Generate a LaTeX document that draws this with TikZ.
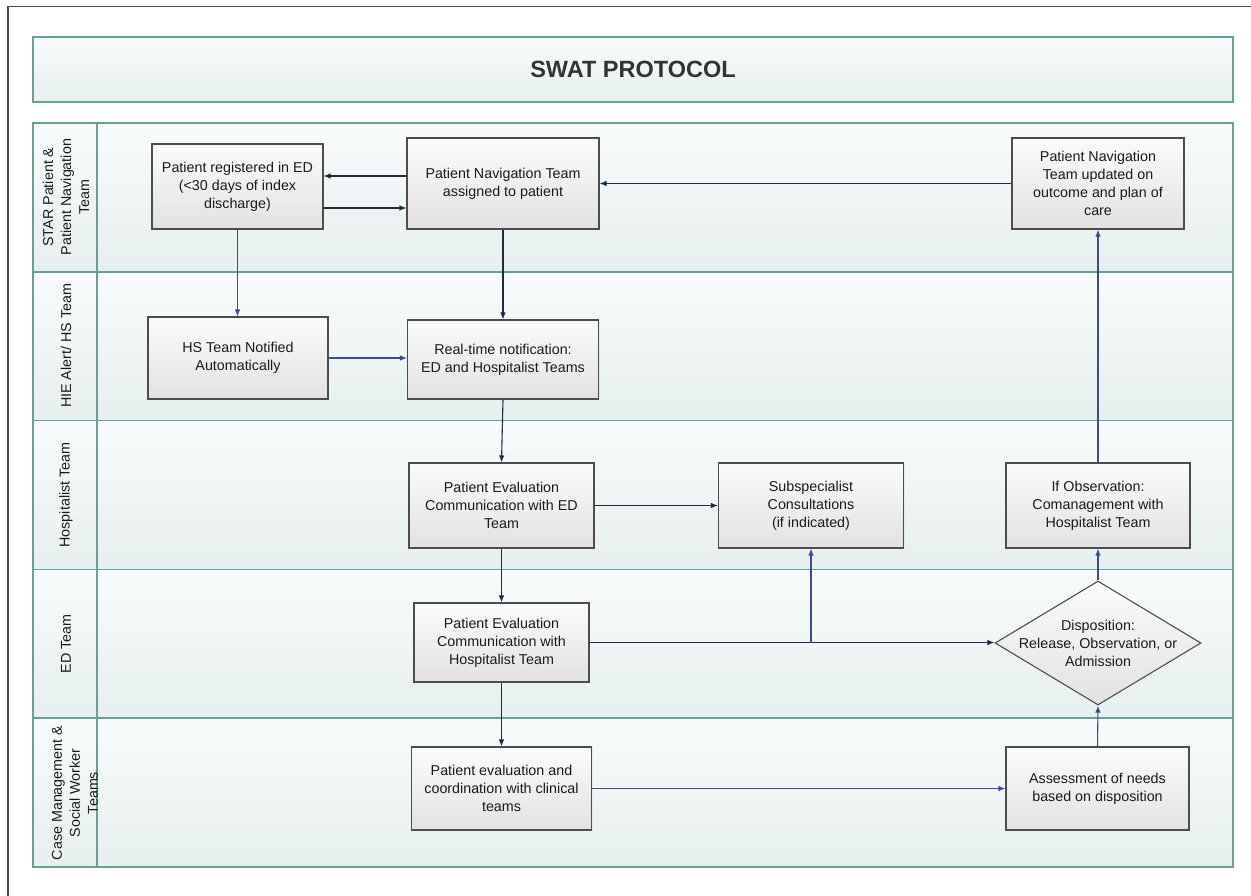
\documentclass[tikz,border=0pt]{standalone}
\usepackage{fontspec}
\setmainfont{Liberation Sans}
\usetikzlibrary{positioning,shapes.geometric,arrows.meta,shadows}

\definecolor{laneline}{HTML}{6A9E99}
\definecolor{lanetop}{HTML}{F8FBFB}
\definecolor{lanebot}{HTML}{E7EFEF}
\definecolor{boxline}{HTML}{4D4D4D}
\definecolor{boxtop}{HTML}{FBFBFB}
\definecolor{boxbot}{HTML}{E2E2E2}
\definecolor{darkarrow}{HTML}{1F2B42}
\definecolor{bluearrow}{HTML}{3A4E8C}
\definecolor{inktext}{HTML}{1A1A1A}

\begin{document}
\begin{tikzpicture}
    [
      x=1pt, y=-1pt,
      font=\fontsize{14.3}{18}\selectfont,
      task/.style=
      {
        draw=boxline,
        line width=1.1pt,
        top color=boxtop,
        bottom color=boxbot,
        align=center,
        inner sep=0pt,
        text=inktext,
        drop shadow={shadow xshift=1.2pt, shadow yshift=-1.2pt, fill=black!12},
      },
      decision/.style=
      {
        diamond,
        draw=boxline,
        line width=1.1pt,
        top color=boxtop,
        bottom color=boxbot,
        inner sep=0pt,
        minimum width=206pt,
        minimum height=124pt,
      },
      lane/.style=
      {
        draw=laneline,
        line width=1.5pt,
        top color=lanetop,
        bottom color=lanebot,
      },
      lanetxt/.style=
      {
        rotate=90,
        align=center,
        text=inktext,
      },
      flow/.style=
      {
        -{Latex[length=7pt,width=5.5pt]},
        line width=1.1pt,
        draw=darkarrow,
      },
      blueflow/.style=
      {
        flow,
        draw=bluearrow,
      }
    ]
    \useasboundingbox (0,0) rectangle (1251,896);
    % outer frame
    \draw[line width=1.5pt, draw=black!70] (8,6.5) rectangle (1270,915);

    % title bar
    \node[lane, minimum width=1200pt, minimum height=65pt, inner sep=0pt,
          font=\fontsize{23.5}{28}\selectfont\bfseries, text=black!80]
          (Title) at (633,69.5) {SWAT PROTOCOL};

    % swimlanes
    \foreach \i in {0,...,4}
    {
      \pgfmathsetmacro\ytop{123+148.8*\i}
      \pgfmathsetmacro\ybot{\ytop+148.8}
      \draw[lane] (97,\ytop) rectangle (1233,\ybot);
      \draw[lane] (33,\ytop) rectangle (97,\ybot);
    }
    \node[lanetxt] (LaneStar) at (66,197) {STAR Patient \&\\Patient Navigation\\Team};
    \node[lanetxt] (LaneHie) at (66,346) {HIE Alert/ HS Team};
    \node[lanetxt] (LaneHosp) at (66,495) {Hospitalist Team};
    \node[lanetxt] (LaneEd) at (66,644) {ED Team};
    \node[lanetxt] (LaneCase) at (75,793) {Case Management \&\\Social Worker\\Teams};

    % steps
    \node[task, minimum width=171pt, minimum height=85pt] (Reg) at (237.5,186.5)
    {
      Patient registered in ED\\(<30 days of index\\discharge)
    };
    \node[task, minimum width=192pt, minimum height=91pt] (PNT) at (503,183.5)
    {
      Patient Navigation Team\\assigned to patient
    };
    \node[task, minimum width=172pt, minimum height=91pt] (Upd) at (1098,183.5)
    {
      Patient Navigation\\Team updated on\\outcome and plan of\\care
    };
    \node[task, minimum width=180pt, minimum height=82pt] (HS) at (238,358)
    {
      HS Team Notified\\Automatically
    };
    \node[task, minimum width=191pt, minimum height=79pt, below of=PNT, node distance=176pt] (RT)
    {
      Real-time notification:\\ED and Hospitalist Teams
    };
    \node[task, minimum width=185pt, minimum height=85pt] (EvalEd) at (501.5,505.5)
    {
      Patient Evaluation\\Communication with ED\\Team
    };
    \node[task, minimum width=185pt, minimum height=85pt] (Sub) at (811,505.5)
    {
      Subspecialist\\Consultations\\(if indicated)
    };
    \node[task, minimum width=184pt, minimum height=85pt] (IfObs) at (1098,505.5)
    {
      If Observation:\\Comanagement with\\Hospitalist Team
    };
    \node[task, minimum width=175pt, minimum height=79pt, below of=EvalEd, node distance=137pt] (EvalHosp)
    {
      Patient Evaluation\\Communication with\\Hospitalist Team
    };
    \node[decision] (Disp) at (1098,643) {};
    \node[align=center, text=inktext] (DispTxt) at (Disp.center)
    {
      Disposition:\\Release, Observation, or\\Admission
    };
    \node[task, minimum width=180pt, minimum height=83pt, below of=EvalHosp, node distance=146pt] (Coord)
    {
      Patient evaluation and\\coordination with clinical\\teams
    };
    \node[task, minimum width=183pt, minimum height=83pt] (Assess) at (1097.5,788.5)
    {
      Assessment of needs\\based on disposition
    };

    % connectors
    \draw[flow] ([yshift=7.5pt]PNT.west) -- ([yshift=7.5pt]PNT.west -| Reg.east);
    \draw[flow] ([yshift=-21.5pt]Reg.east) -- ([yshift=-21.5pt]Reg.east -| PNT.west);
    \draw[flow] (Upd.west) -- (Upd.west -| PNT.east);
    \draw[blueflow] (Reg.south) -- (Reg.south |- HS.north);
    \draw[flow] (PNT.south) -- (RT.north);
    \draw[blueflow] (HS.east) -- (HS.east -| RT.west);
    \draw[flow] (RT.south) -- (EvalEd.north);
    \draw[flow] (EvalEd.east) -- (Sub.west);
    \draw[flow] (EvalEd.south) -- (EvalHosp.north);
    \draw[flow] (EvalHosp.east) -- (EvalHosp.east -| Disp.west);
    \coordinate (Split) at (EvalHosp.east -| Sub.south);
    \draw[blueflow] (Split) -- (Sub.south);
    \draw[flow] (EvalHosp.south) -- (Coord.north);
    \draw[blueflow] (Coord.east) -- (Coord.east -| Assess.west);
    \draw[blueflow] (Assess.north) -- (Disp.south);
    \draw[blueflow] (Disp.north) -- (IfObs.south);
    \draw[blueflow] (IfObs.north) -- (Upd.south);
  \end{tikzpicture}
\end{document}
